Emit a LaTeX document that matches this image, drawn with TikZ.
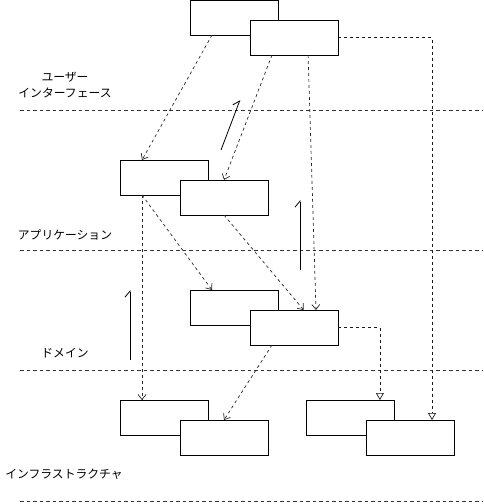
\documentclass[tikz,border=0pt]{standalone}
\usepackage{fontspec}
\newfontfamily\jpfont{Noto Sans CJK JP}
\usetikzlibrary{arrows.meta,calc}
\begin{document}
\begin{tikzpicture}[x=1pt,y=-1pt,
  box/.style={draw=black,line width=0.8pt,fill=white,minimum width=88pt,minimum height=35pt,inner sep=0pt,outer sep=0pt},
  sep/.style={draw=black!80,line width=0.7pt,dash pattern=on 3.5pt off 3pt},
  dep/.style={draw=black!85,line width=0.7pt,dash pattern=on 3pt off 3pt,-{Straight Barb[length=5pt,width=8pt,line width=0.7pt]}},
  impl/.style={draw=black!90,line width=0.7pt,dash pattern=on 3pt off 3pt,-{Triangle[open,length=7pt,width=8pt,line width=0.7pt]}},
  flow/.style={draw=black,line width=0.8pt,-{Straight Barb[harpoon,length=6pt,width=10pt,line width=0.8pt]}},
  lbl/.style={font=\jpfont\fontsize{11.8}{16}\selectfont,align=center,inner sep=0pt}]
\useasboundingbox (0,0) rectangle (483,504);
% separators
\coordinate (s1a) at (20,110.5); \coordinate (s1b) at (483,110.5);
\coordinate (s2a) at (20,250.5); \coordinate (s2b) at (483,250.5);
\coordinate (s3a) at (20,370.5); \coordinate (s3b) at (483,370.5);
\coordinate (s4a) at (20,501.5); \coordinate (s4b) at (483,501.5);
\draw[sep] (s1a) -- (s1b);
\draw[sep] (s2a) -- (s2b);
\draw[sep] (s3a) -- (s3b);
\draw[sep] (s4a) -- (s4b);
% labels
\node[lbl] (lui) at (65,85) {ユーザー\\インターフェース};
\node[lbl] (lapp) at (65,235) {アプリケーション};
\node[lbl] (ldom) at (65,353) {ドメイン};
\node[lbl] (linf) at (64,474) {インフラストラクチャ};
% boxes
\node[box] (A1) at (234,17.5) {};
\node[box] (A2) at (294,37.5) {};
\node[box] (B1) at (164,177.5) {};
\node[box] (B2) at (224,197.5) {};
\node[box] (C1) at (234,307.5) {};
\node[box] (C2) at (294,327.5) {};
\node[box] (D1) at (164,417.5) {};
\node[box] (D2) at (224,437.5) {};
\node[box] (E1) at (350,417.5) {};
\node[box] (E2) at (410,437.5) {};
% dependencies
\draw[dep] ($(A1.south west)!0.25!(A1.south east)$) -- ($(B1.north west)!0.25!(B1.north east)$);
\draw[dep] ($(A2.south west)!0.25!(A2.south east)$) -- ($(B2.north west)!0.5!(B2.north east)$);
\draw[dep] ($(A2.south west)!0.66!(A2.south east)$) -- ($(C2.north west)!0.75!(C2.north east)$);
\draw[dep] ($(B1.south west)!0.25!(B1.south east)$) -- ($(C1.north west)!0.25!(C1.north east)$);
\draw[dep] ($(B1.south west)!0.25!(B1.south east)$) -- ($(D1.north west)!0.25!(D1.north east)$);
\draw[dep] ($(B2.south west)!0.5!(B2.south east)$) -- ($(C2.north west)!0.61!(C2.north east)$);
\draw[dep] ($(C2.south west)!0.25!(C2.south east)$) -- ($(D2.north west)!0.5!(D2.north east)$);
\draw[impl] (A2.east) -| ($(E2.north west)!0.75!(E2.north east)$);
\draw[impl] (C2.east) -| ($(E1.north west)!0.84!(E1.north east)$);
% flow arrows
\coordinate (f1a) at (221,150); \coordinate (f1b) at (240,100);
\coordinate (f2a) at (300,270); \coordinate (f2b) at (300,200);
\coordinate (f3a) at (130,360); \coordinate (f3b) at (130,290);
\draw[flow] (f1a) -- (f1b);
\draw[flow] (f2a) -- (f2b);
\draw[flow] (f3a) -- (f3b);
\end{tikzpicture}
\end{document}
